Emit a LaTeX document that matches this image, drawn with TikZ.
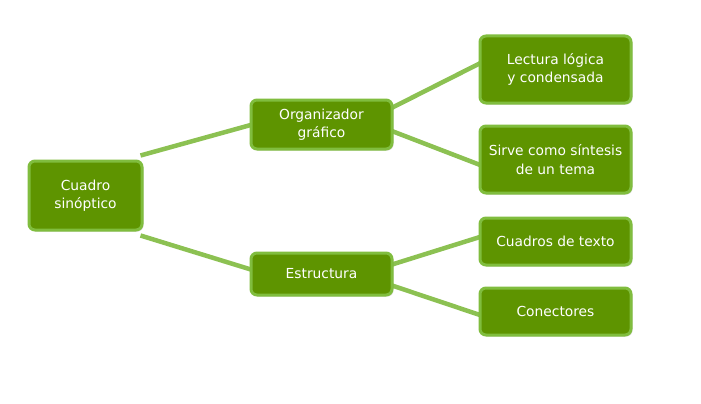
\documentclass[tikz,border=0pt]{standalone}
\usepackage{fontspec}
\setmainfont{DejaVu Sans}
\usetikzlibrary{shadows,backgrounds}
\definecolor{boxfill}{HTML}{5E9400}
\definecolor{boxedge}{HTML}{80BD3E}
\definecolor{linkcol}{HTML}{8CC152}
\tikzset{
  box/.style={draw=boxedge, line width=3pt, fill=boxfill, rounded corners=6pt,
    text=white, align=center, font=\fontsize{13.8}{18.5}\selectfont,
    inner sep=0pt, drop shadow={opacity=0.25, shadow xshift=1.5pt, shadow yshift=-1.5pt}},
  link/.style={draw=linkcol, line width=4.5pt}
}
\begin{document}
\begin{tikzpicture}[x=1pt,y=-1pt]
\useasboundingbox (0,0) rectangle (701,404);
\node[box, minimum width=113pt, minimum height=69pt] (c) at (85.5,195.5) {Cuadro\\sinóptico};
\node[box, minimum width=141pt, minimum height=49pt] (o) at (321.5,124.5) {Organizador\\gráfico};
\node[box, minimum width=141pt, minimum height=42pt] (e) at (321.5,274) {Estructura};
\node[box, minimum width=151pt, minimum height=67pt] (l) at (555.5,69.5) {Lectura lógica\\y condensada};
\node[box, minimum width=151pt, minimum height=67pt] (s) at (555.5,159.5) {Sirve como síntesis\\de un tema};
\node[box, minimum width=151pt, minimum height=47pt] (t) at (555.5,241.5) {Cuadros de texto};
\node[box, minimum width=151pt, minimum height=47pt] (n) at (555.5,311.5) {Conectores};
\begin{pgfonlayer}{background}
\fill[white] (0,0) rectangle (701,404);
\draw[link] ([xshift=-3pt,yshift=4pt]c.north east) -- ([xshift=3pt]o.west);
\draw[link] ([xshift=-3pt,yshift=-4pt]c.south east) -- ([xshift=3pt,yshift=4pt]e.west);
\draw[link] ([xshift=-3pt,yshift=16pt]o.east) -- ([xshift=3pt,yshift=7pt]l.west);
\draw[link] ([xshift=-3pt,yshift=-6pt]o.east) -- ([xshift=3pt,yshift=-6pt]s.west);
\draw[link] ([xshift=-3pt,yshift=9pt]e.east) -- ([xshift=3pt,yshift=5pt]t.west);
\draw[link] ([xshift=-3pt,yshift=-11pt]e.east) -- ([xshift=3pt,yshift=-4pt]n.west);
\end{pgfonlayer}
\end{tikzpicture}
\end{document}
